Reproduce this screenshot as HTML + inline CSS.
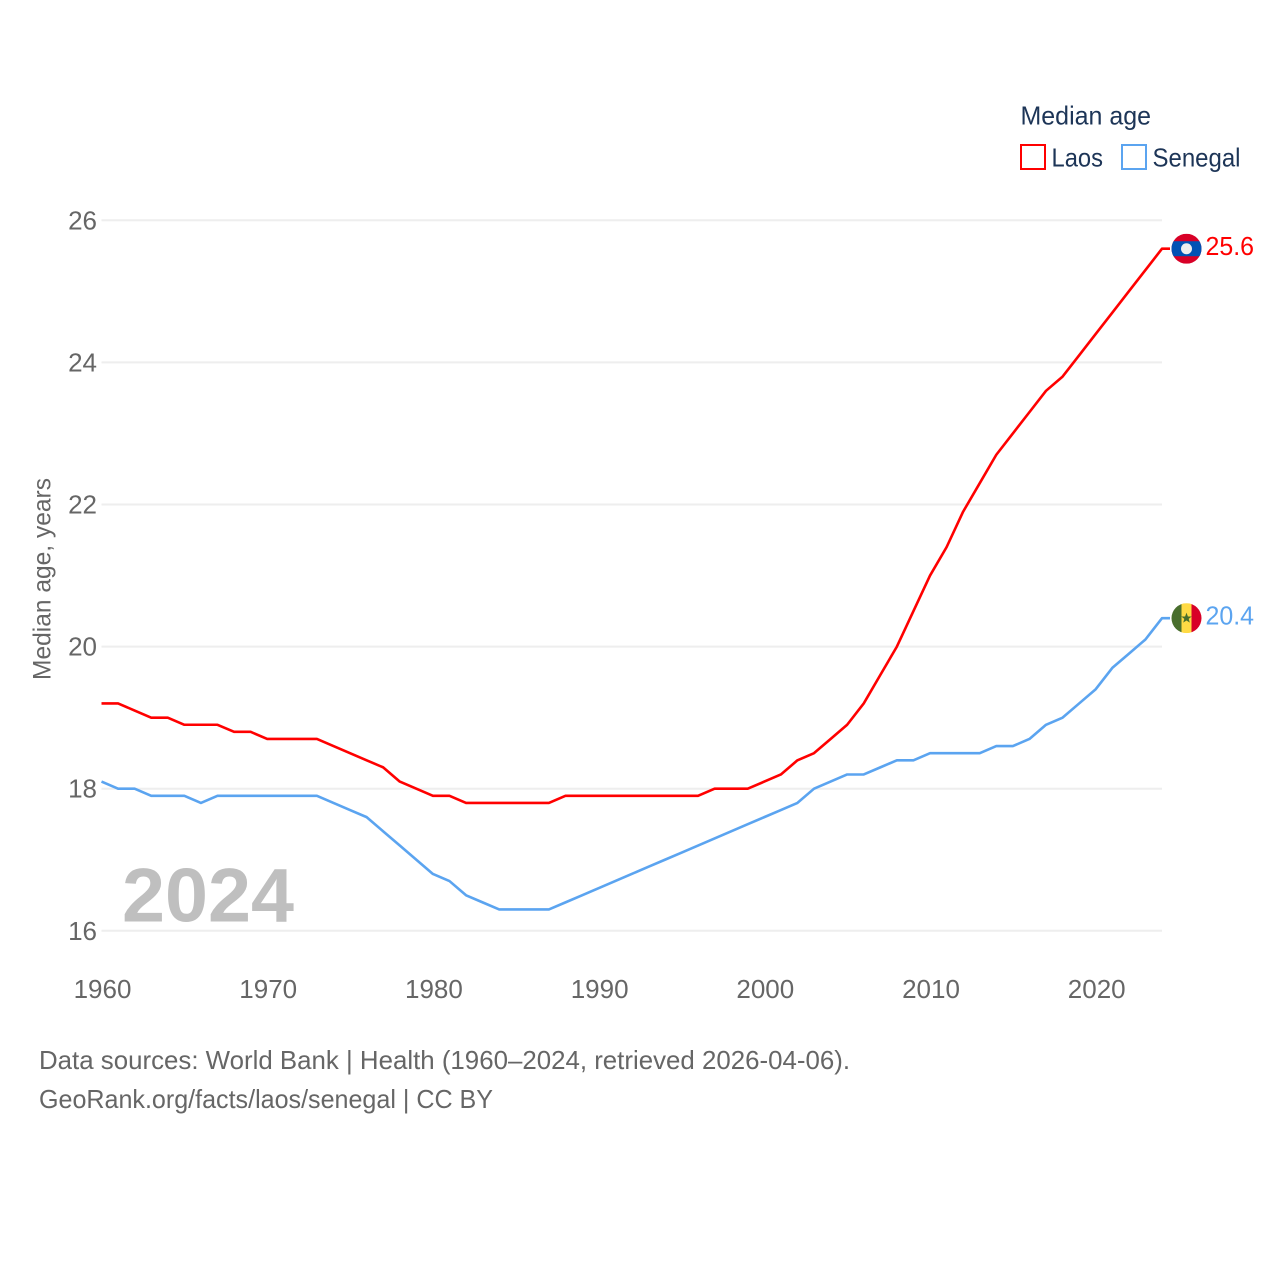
<!DOCTYPE html>
<html lang="en">
<head>
<meta charset="utf-8">
<title>Median age: Laos and Senegal</title>
<style>
html,body{margin:0;padding:0;background:#fff;}
svg{display:block;}
text{font-family:"Liberation Sans",sans-serif;}
</style>
</head>
<body>
<svg id="chart" xmlns="http://www.w3.org/2000/svg" width="1280" height="1280" viewBox="0 0 1280 1280">
  <rect x="0" y="0" width="1280" height="1280" fill="#ffffff"/>
  <g id="grid"></g>
  <g id="yticks"></g>
  <g id="xticks"></g>
  <text transform="translate(50.5,579) rotate(-90)" text-anchor="middle" font-size="25" fill="#666666" textLength="202" lengthAdjust="spacingAndGlyphs">Median age, years</text>
  <text x="122" y="921.5" font-size="76" font-weight="700" fill="#bfbfbf" textLength="172" lengthAdjust="spacingAndGlyphs">2024</text>
  <g id="series"></g>
  <g id="flag-laos">
    <clipPath id="clip-laos"><circle cx="0" cy="0" r="15"/></clipPath>
    <g clip-path="url(#clip-laos)">
      <rect x="-15" y="-15" width="30" height="30" fill="#d80027"/>
      <rect x="-15" y="-7.5" width="30" height="15" fill="#0052b4"/>
      <circle cx="0" cy="0" r="5.5" fill="#eeeeee"/>
    </g>
  </g>
  <g id="flag-senegal">
    <clipPath id="clip-senegal"><circle cx="0" cy="0" r="15"/></clipPath>
    <g clip-path="url(#clip-senegal)">
      <rect x="-15" y="-15" width="10" height="30" fill="#496e2d"/>
      <rect x="-5" y="-15" width="10" height="30" fill="#ffda44"/>
      <rect x="5" y="-15" width="10" height="30" fill="#d80027"/>
      <polygon points="0,-5.5 1.4,-1.7 5.2,-1.7 2.2,0.7 3.3,4.5 0,2.3 -3.3,4.5 -2.2,0.7 -5.2,-1.7 -1.4,-1.7" fill="#496e2d"/>
    </g>
  </g>
  <text id="value-laos" x="1205.5" y="255" font-size="26" fill="#ff0000" textLength="48.5" lengthAdjust="spacingAndGlyphs"></text>
  <text id="value-senegal" x="1205.5" y="625" font-size="26" fill="#5ba4f0" textLength="48.5" lengthAdjust="spacingAndGlyphs"></text>
  <g>
    <text x="1020.5" y="124.5" font-size="26" fill="#1d3557" textLength="130.5" lengthAdjust="spacingAndGlyphs">Median age</text>
    <g>
      <rect x="1021" y="145" width="24" height="24" fill="#ffffff" stroke="#ff0000" stroke-width="2"/>
      <text x="1051.5" y="166.5" font-size="26" fill="#1d3557" textLength="51.5" lengthAdjust="spacingAndGlyphs">Laos</text>
    </g>
    <g>
      <rect x="1122" y="145" width="24" height="24" fill="#ffffff" stroke="#5ba4f0" stroke-width="2"/>
      <text x="1152.5" y="166.5" font-size="26" fill="#1d3557" textLength="88" lengthAdjust="spacingAndGlyphs">Senegal</text>
    </g>
  </g>
  <text x="39" y="1069" font-size="26" fill="#666666" textLength="811" lengthAdjust="spacingAndGlyphs">Data sources: World Bank | Health (1960–2024, retrieved 2026-04-06).</text>
  <text x="39" y="1108" font-size="26" fill="#666666" textLength="454" lengthAdjust="spacingAndGlyphs">GeoRank.org/facts/laos/senegal | CC BY</text>
</svg>
<script>
const years = [1960,1961,1962,1963,1964,1965,1966,1967,1968,1969,1970,1971,1972,1973,1974,1975,1976,1977,1978,1979,1980,1981,1982,1983,1984,1985,1986,1987,1988,1989,1990,1991,1992,1993,1994,1995,1996,1997,1998,1999,2000,2001,2002,2003,2004,2005,2006,2007,2008,2009,2010,2011,2012,2013,2014,2015,2016,2017,2018,2019,2020,2021,2022,2023,2024];
const laos = [19.2,19.2,19.1,19.0,19.0,18.9,18.9,18.9,18.8,18.8,18.7,18.7,18.7,18.7,18.6,18.5,18.4,18.3,18.1,18.0,17.9,17.9,17.8,17.8,17.8,17.8,17.8,17.8,17.9,17.9,17.9,17.9,17.9,17.9,17.9,17.9,17.9,18.0,18.0,18.0,18.1,18.2,18.4,18.5,18.7,18.9,19.2,19.6,20.0,20.5,21.0,21.4,21.9,22.3,22.7,23.0,23.3,23.6,23.8,24.1,24.4,24.7,25.0,25.3,25.6];
const senegal = [18.1,18.0,18.0,17.9,17.9,17.9,17.8,17.9,17.9,17.9,17.9,17.9,17.9,17.9,17.8,17.7,17.6,17.4,17.2,17.0,16.8,16.7,16.5,16.4,16.3,16.3,16.3,16.3,16.4,16.5,16.6,16.7,16.8,16.9,17.0,17.1,17.2,17.3,17.4,17.5,17.6,17.7,17.8,18.0,18.1,18.2,18.2,18.3,18.4,18.4,18.5,18.5,18.5,18.5,18.6,18.6,18.7,18.9,19.0,19.2,19.4,19.7,19.9,20.1,20.4];
const yTickValues = [16,18,20,22,24,26];
const xTickValues = [1960,1970,1980,1990,2000,2010,2020];

const NS = 'http://www.w3.org/2000/svg';
const xMin = 1960, xMax = 2024, yMin = 16, yMax = 26;
const plotLeft = 101.5, plotRight = 1162, plotBottom = 930.8, plotTop = 220.3;
const flagX = 1186.5;
function xScale(v){ return plotLeft + (v - xMin) * (plotRight - plotLeft) / (xMax - xMin); }
function yScale(v){ return plotBottom - (v - yMin) * (plotBottom - plotTop) / (yMax - yMin); }
function make(tag, attrs, parent){
  const el = document.createElementNS(NS, tag);
  for (const k in attrs) el.setAttribute(k, attrs[k]);
  parent.appendChild(el);
  return el;
}

const gridG = document.getElementById('grid');
const yG = document.getElementById('yticks');
const xG = document.getElementById('xticks');
yTickValues.forEach(function(v){
  const line = make('line', {x1:plotLeft, x2:plotRight, y1:yScale(v), y2:yScale(v), stroke:'#eeeeee', 'stroke-width':2}, gridG);
  
  
  const t = make('text', {x:97, y:yScale(v) + 9, 'text-anchor':'end', 'font-size':26, fill:'#666666'}, yG);
  t.textContent = String(v);
  
  
});
xTickValues.forEach(function(v){
  const t = make('text', {x:xScale(v) + 1, y:998, 'text-anchor':'middle', 'font-size':26, fill:'#666666'}, xG);
  t.textContent = String(v);
  
  
});

const seriesG = document.getElementById('series');
function drawSeries(values, color, name, flagId, valueId){
  const lastY = yScale(values[values.length - 1]);
  let d = values.map(function(v, i){
    return (i ? 'L' : 'M') + xScale(years[i]).toFixed(2) + ' ' + yScale(v).toFixed(2);
  }).join(' ');
  d += ' L' + (flagX - 16.5) + ' ' + lastY.toFixed(2);
  const path = make('path', {d:d, fill:'none', stroke:color, 'stroke-width':2.6, 'stroke-linejoin':'round'}, seriesG);
  
  
  document.getElementById(flagId).setAttribute('transform', 'translate(' + flagX + ',' + lastY + ')');
  const label = document.getElementById(valueId);
  label.textContent = values[values.length - 1].toFixed(1);
  label.setAttribute('y', lastY + 6.3);
}
drawSeries(senegal, '#5ba4f0', 'senegal-line', 'flag-senegal', 'value-senegal');
drawSeries(laos, '#ff0000', 'laos-line', 'flag-laos', 'value-laos');
</script>
</body>
</html>
